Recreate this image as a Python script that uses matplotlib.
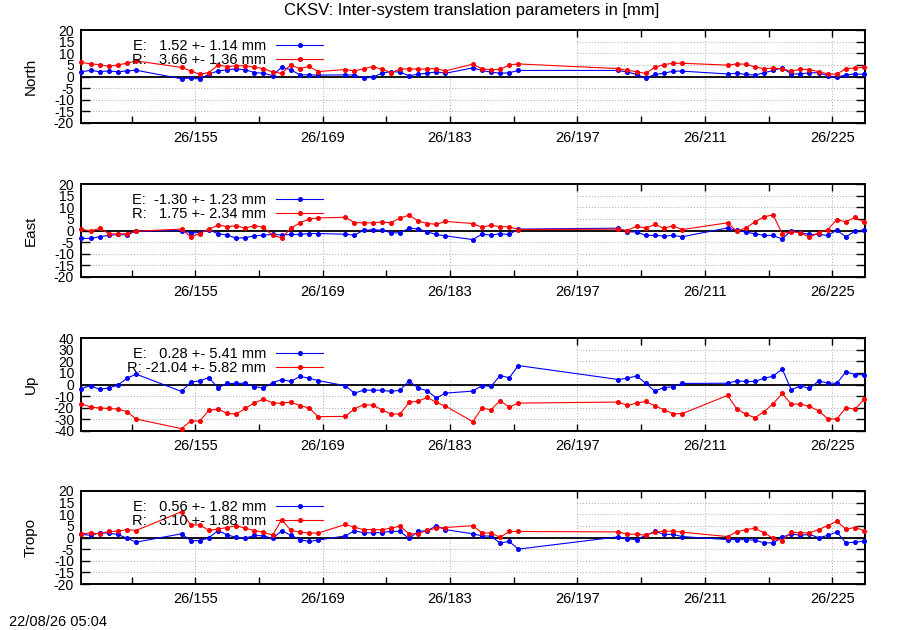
import matplotlib
matplotlib.use('Agg')
import matplotlib.pyplot as plt
import matplotlib.transforms as mtransforms
from matplotlib.patches import Rectangle
import numpy as np

plt.rcParams['font.family'] = ['Liberation Sans', 'DejaVu Sans']
plt.rcParams['axes.unicode_minus'] = False

# day of year 2026 (points are plotted at noon)
days = [142, 143, 144, 145, 146, 147, 148,
        153, 154, 155, 156, 157, 158, 159, 160, 161, 162, 163, 164, 165, 166, 167, 168,
        171, 172, 173, 174, 175, 176, 177, 178, 179, 180, 181, 182,
        185, 186, 187, 188, 189, 190,
        201, 202, 203, 204, 205, 206, 207, 208,
        213, 214, 215, 216, 217, 218, 219, 220, 221, 222, 223, 224, 225, 226, 227, 228]

north_e = [2.1, 2.6, 2.1, 2.4, 2.0, 2.4, 2.7,
           -1.0, -0.6, -1.1, 1.0, 2.4, 2.9, 3.3, 2.9, 1.7, 1.4, 0.4, 4.0, 2.9, 0.7, 0.7, 0.6,
           0.7, 0.6, -0.7, -0.3, 1.4, 2.1, 1.9, 0.3, 1.0, 1.4, 2.0, 1.4,
           3.7, 2.6, 1.9, 1.4, 1.6, 2.6,
           2.6, 1.9, 0.9, -0.7, 0.9, 1.4, 2.3, 2.3,
           1.1, 1.4, 0.9, 0.6, 1.6, 2.6, 3.7, 1.1, 1.1, 1.6, 1.6, 0.4, -0.3, 0.7, 1.1, 0.9]
north_r = [6.1, 5.4, 5.1, 4.4, 5.0, 5.7, 6.7,
           3.9, 2.4, 1.0, 1.7, 4.9, 4.3, 4.6, 4.6, 4.0, 3.4, 1.9, 1.4, 5.0, 3.3, 4.4, 2.1,
           3.0, 2.4, 3.3, 4.3, 3.1, 1.7, 3.1, 3.4, 3.1, 3.3, 3.4, 2.4,
           5.3, 3.3, 2.9, 3.1, 5.0, 5.4,
           3.4, 2.6, 2.1, 1.3, 4.0, 5.1, 5.7, 5.7,
           4.9, 5.4, 5.3, 4.1, 3.4, 3.6, 3.3, 2.3, 3.1, 3.0, 2.1, 1.1, 1.0, 3.4, 3.6, 4.0]
east_e = [-3.4, -3.4, -2.7, -2.1, -1.7, -1.9, -0.3,
          0.0, -1.0, -0.9, 0.4, -1.4, -1.9, -3.3, -3.1, -2.3, -2.0, -1.7, -1.9, -1.7, -1.7, -1.3, -1.3,
          -1.6, -2.0, 0.1, 0.3, 0.1, -0.9, -1.1, 1.0, 0.7, -0.6, -1.7, -2.3,
          -3.9, -1.6, -2.0, -1.4, -1.7, 0.6,
          1.0, -0.6, -0.6, -2.1, -2.1, -2.4, -2.1, -2.7,
          1.1, 0.1, -0.7, -1.4, -2.1, -2.1, -3.7, 0.0, -0.9, -1.7, -1.7, -2.1, 0.1, -2.7, -0.3, 0.3]
east_r = [0.6, -0.3, 1.0, -1.3, -1.6, -1.3, -0.3,
          0.6, -2.7, -1.3, 0.6, 2.3, 1.7, 2.0, 1.0, 2.1, 1.3, -2.1, -3.1, 0.9, 3.3, 4.9, 5.4,
          5.7, 3.4, 3.3, 3.3, 3.6, 3.3, 5.4, 6.6, 4.1, 3.0, 2.7, 3.9,
          3.0, 1.4, 2.3, 1.6, 1.6, 0.4,
          0.6, 0.0, 1.9, 1.0, 2.6, 1.0, 2.0, 0.4,
          3.3, -0.3, 1.1, 3.7, 5.9, 6.7, -1.3, -0.6, -0.9, -3.0, -0.9, 0.4, 4.7, 3.7, 5.6, 3.6]
up_e = [-3.7, -0.9, -4.3, -2.9, -0.6, 5.4, 8.9,
        -6.0, 2.0, 3.1, 6.0, -2.9, 0.9, 0.9, 1.1, -2.0, -2.9, 1.4, 4.3, 2.6, 6.9, 5.4, 3.4,
        -1.1, -7.4, -4.9, -4.9, -4.9, -6.0, -4.9, 3.1, -3.1, -5.4, -11.7, -7.4,
        -5.7, -0.9, -1.7, 7.7, 5.7, 16.3,
        4.3, 5.4, 7.4, 1.1, -5.7, -2.6, -2.0, 0.9,
        1.1, 3.1, 2.6, 2.6, 5.4, 7.1, 13.4, -4.6, -1.1, -3.4, 2.9, 1.4, 0.9, 10.9, 8.6, 8.3]
up_r = [-16.6, -19.4, -20.3, -20.6, -21.1, -23.4, -29.7,
        -38.0, -31.4, -31.4, -22.3, -21.1, -24.9, -25.4, -20.6, -15.7, -12.6, -15.7, -16.3, -14.9, -18.3, -20.0, -27.7,
        -27.4, -20.9, -17.4, -17.7, -21.7, -25.4, -25.4, -15.4, -14.3, -11.1, -15.4, -18.6,
        -32.0, -20.3, -21.7, -14.0, -19.4, -16.0,
        -15.1, -18.0, -16.0, -14.6, -18.3, -21.7, -25.1, -25.1,
        -9.4, -20.9, -25.4, -28.6, -23.4, -16.6, -7.7, -16.9, -16.9, -18.9, -22.6, -29.4, -29.7, -20.0, -21.1, -12.9]
tropo_e = [1.4, 0.9, 2.0, 1.9, 1.3, -0.3, -2.0,
           1.6, -1.3, -1.4, -0.1, 3.0, 1.1, 0.1, -0.3, 0.9, 0.7, -0.4, 2.9, 1.0, -0.9, -1.7, -1.1,
           0.7, 2.9, 2.0, 2.0, 2.1, 2.7, 2.6, -0.4, 2.6, 3.0, 5.0, 3.4,
           1.6, 0.7, 0.6, -2.4, -1.7, -5.0,
           0.3, -0.6, -0.9, 0.9, 2.6, 1.4, 1.3, 0.4,
           -0.9, -0.9, -1.0, -1.1, -2.3, -2.3, 0.1, 1.6, 0.9, 1.4, -0.1, 0.9, 2.4, -2.3, -2.0, -1.6]
tropo_r = [1.6, 1.9, 1.7, 2.6, 2.7, 3.4, 3.0,
           11.1, 5.4, 5.4, 3.1, 3.6, 4.3, 5.1, 4.0, 3.0, 2.3, 1.0, 7.7, 3.1, 2.3, 1.9, 1.9,
           5.6, 4.4, 3.4, 3.4, 3.3, 4.0, 4.9, 1.6, 1.6, 3.1, 4.0, 4.3,
           5.1, 2.0, 1.9, 0.1, 2.6, 2.6,
           2.4, 1.4, 1.4, 1.0, 2.3, 2.7, 2.7, 2.3,
           0.4, 2.4, 3.4, 3.9, 2.1, -0.4, -1.3, 2.3, 2.0, 2.0, 3.4, 5.1, 7.0, 3.6, 4.3, 3.0]

panel_names = ['North', 'East', 'Up', 'Tropo']
series_e = [north_e, east_e, up_e, tropo_e]
series_r = [north_r, east_r, up_r, tropo_r]
mean_e = [1.52, -1.30, 0.28, 0.56]
std_e = [1.14, 1.23, 5.41, 1.82]
mean_r = [3.66, 1.75, -21.04, 3.10]
std_r = [1.36, 2.34, 5.82, 1.88]
y_limits = [20, 20, 40, 20]
y_steps = [5, 5, 10, 5]

major_days = [155, 169, 183, 197, 211, 225]
minor_days = [148, 162, 176, 190, 204, 218]
tick_labels = ['26/155', '26/169', '26/183', '26/197', '26/211', '26/225']

title = 'CKSV: Inter-system translation parameters in [mm]'
stamp = '22/08/26 05:04'

x = np.array(days) + 0.5
xmin, xmax = 142.45, 228.6

fig = plt.figure(figsize=(9, 6.3), dpi=100)
W, H = 900.0, 630.0
tops = [30, 184, 338, 491]
ax_h = 93

for i, name in enumerate(panel_names):
    ax = fig.add_axes([81 / W, 1 - (tops[i] + ax_h) / H, 784 / W, ax_h / H])
    lim = y_limits[i]
    ax.set_xlim(xmin, xmax)
    ax.set_ylim(-lim, lim)
    ax.set_yticks(np.arange(-lim, lim + 1, y_steps[i]))
    ax.set_xticks(major_days)
    ax.set_xticklabels(tick_labels)
    ax.set_xticks(minor_days, minor=True)
    ax.tick_params(axis='x', which='both', direction='in', top=True, bottom=True,
                   length=5, width=1, pad=6, labelsize=10.5)
    ax.tick_params(axis='y', direction='in', left=True, right=True,
                   length=6.5, width=1, pad=5, labelsize=10)
    for s in ax.spines.values():
        s.set_linewidth(1.4)

    ax.set_axisbelow(True)
    ax.grid(True, which='major', color='#a8a8a8', linestyle=(0, (1, 2)), linewidth=0.7)
    # gnuplot key box hides the grid in the upper left part
    trans = mtransforms.blended_transform_factory(ax.transData, ax.transAxes)
    ax.add_patch(Rectangle((xmin, 0.56), 196.85 - xmin, 0.44, transform=trans,
                           facecolor='white', edgecolor='none', zorder=0.8))
    ax.axhline(0, color='black', linewidth=1.3, zorder=1.5)

    ax.plot(x, series_e[i], color='#0000ff', linewidth=0.8, marker='o', markersize=2.6,
            clip_on=False, zorder=3,
            label='E: %6.2f +- %4.2f mm' % (mean_e[i], std_e[i]))
    ax.plot(x, series_r[i], color='#ff0000', linewidth=0.8, marker='o', markersize=2.6,
            clip_on=False, zorder=3,
            label='R: %6.2f +- %4.2f mm' % (mean_r[i], std_r[i]))

    ax.legend(loc='center right', bbox_to_anchor=(0.3087, 0.75), frameon=False,
              markerfirst=False, numpoints=1, handlelength=3.2, handletextpad=0.7,
              labelspacing=0.0, borderpad=0, borderaxespad=0, fontsize=10.5)

    fig.text(31 / W, 1 - (tops[i] + ax_h / 2) / H, name, rotation=90,
             ha='center', va='center', fontsize=11)

fig.text(472 / W, 1 - 11 / H, title, ha='center', va='center', fontsize=12)
fig.text(9 / W, 1 - 622 / H, stamp, ha='left', va='center', fontsize=10.5)

fig.savefig('out.png', dpi=100)
